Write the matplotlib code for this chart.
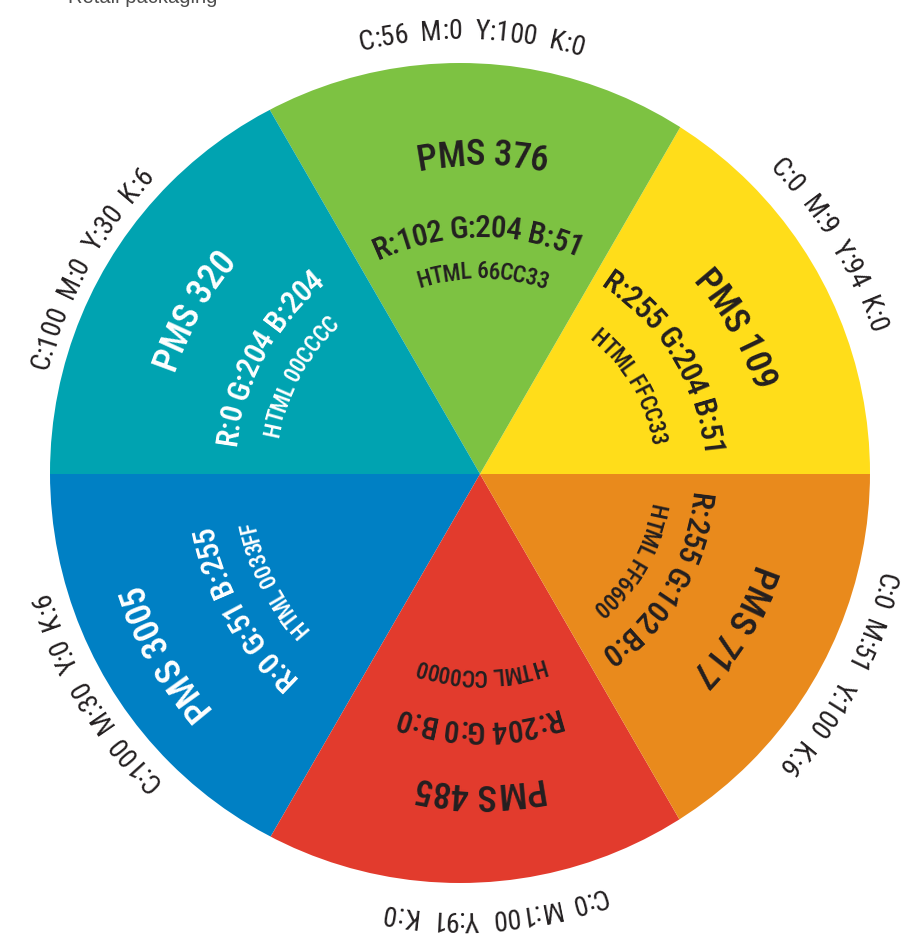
import numpy as np
import matplotlib
matplotlib.use("Agg")
import matplotlib.pyplot as plt
from matplotlib import font_manager
from matplotlib.ft2font import FT2Font
from matplotlib.patches import Circle

# six equal colour segments, counter-clockwise from 3 o'clock
shares = [1, 1, 1, 1, 1, 1]
fill_colors = ["#FFDD1A", "#7DC242", "#00A3B1", "#0080C4", "#E23B2D", "#E98A1C"]
pms_names = ["PMS 109", "PMS 376", "PMS 320", "PMS 3005", "PMS 485", "PMS 717"]
rgb_labels = ["R:255 G:204 B:51", "R:102 G:204 B:51", "R:0 G:204 B:204",
              "R:0 G:51 B:255", "R:204 G:0 B:0", "R:255 G:102 B:0"]
html_labels = ["HTML FFCC33", "HTML 66CC33", "HTML 00CCCC",
               "HTML 0033FF", "HTML CC0000", "HTML FF6600"]
cmyk_labels = ["C:0  M:9  Y:94  K:0", "C:56  M:0  Y:100  K:0", "C:100  M:0  Y:30  K:6",
               "C:100  M:30  Y:0  K:6", "C:0  M:100  Y:91  K:0", "C:0  M:51  Y:100  K:6"]
text_colors = ["#231F20", "#231F20", "white", "white", "#231F20", "#231F20"]

W, H = 915, 941
apex = (480, H - 474)
disc_c = (460, H - 473)
disc_r = 410

# (angle, radius of glyph centre) for each label
pms_pos = [(29.5, 299), (89.5, 322), (150.2, 336), (209.3, 370), (269.5, 323), (328.8, 301)]
rgb_pos = [(31, 234), (90.5, 248), (151.1, 257), (209.3, 284), (269.4, 258), (329.3, 223)]
html_pos = [(30.4, 182), (89.3, 204), (151.4, 213), (206.9, 239), (270, 203), (330, 181)]
cmyk_pos = [(31.7, 444), (88.5, 444), (151, 435), (211, 438), (274.5, 448), (332, 441)]


def pick(names, weight):
    for n in names:
        try:
            return font_manager.findfont(font_manager.FontProperties(family=n, weight=weight),
                                         fallback_to_default=False)
        except ValueError:
            pass
    return font_manager.findfont(font_manager.FontProperties(family="DejaVu Sans", weight=weight))


narrow = ["Roboto Condensed", "Liberation Sans Narrow", "Noto Sans Condensed", "Open Sans Condensed"]
font_reg = pick(narrow, "normal")
font_med = pick(narrow, 500)


def arc_text(ax, s, center, theta_deg, r_mid, size_px, path, color):
    # text set along a circle, top of the letters pointing outward, read clockwise
    ft = FT2Font(path, hinting_factor=1)
    ft.set_size(size_px * 0.72, 100)
    adv = [ft.load_char(ord(ch)).linearHoriAdvance / 65536 for ch in s]
    total = sum(adv)
    r_base = r_mid - 0.36 * size_px
    fp = font_manager.FontProperties(fname=path, size=size_px * 0.72)
    pos = -total / 2
    for ch, a in zip(s, adv):
        mid = pos + a / 2
        pos += a
        if ch == " ":
            continue
        th = np.radians(theta_deg) - mid / r_mid
        x = center[0] + r_base * np.cos(th)
        y = center[1] + r_base * np.sin(th)
        ax.text(x, y, ch, fontproperties=fp, color=color, rotation=np.degrees(th) - 90,
                rotation_mode="anchor", ha="center", va="baseline")


fig = plt.figure(figsize=(W / 100, H / 100), dpi=100)
ax = fig.add_axes([0, 0, 1, 1])

wedges, _ = ax.pie(shares, colors=fill_colors, startangle=0, counterclock=True,
                   center=apex, radius=650, wedgeprops=dict(linewidth=0))
disc = Circle(disc_c, disc_r, transform=ax.transData)
for w in wedges:
    w.set_clip_on(True)
    w.set_clip_path(disc)

for i in range(6):
    c = text_colors[i]
    arc_text(ax, pms_names[i], apex, pms_pos[i][0], pms_pos[i][1], 37, font_med, c)
    arc_text(ax, rgb_labels[i], apex, rgb_pos[i][0], rgb_pos[i][1], 31.5, font_med, c)
    arc_text(ax, html_labels[i], apex, html_pos[i][0], html_pos[i][1], 23.5, font_med, c)
    arc_text(ax, cmyk_labels[i], disc_c, cmyk_pos[i][0], cmyk_pos[i][1], 28, font_reg, "#231F20")

# cut-off bullet line from the page above
ax.text(40, H - 3, "\u2022", fontsize=9, color="#4D4D4D", va="baseline", ha="center")
ax.text(68, H - 3, "Retail packaging", fontsize=14.5, color="#4D4D4D", va="baseline",
        family=["Liberation Sans", "DejaVu Sans"])

ax.set_xlim(0, W)
ax.set_ylim(0, H)
ax.set_aspect("equal")
ax.axis("off")
fig.savefig("out.png", dpi=100)
